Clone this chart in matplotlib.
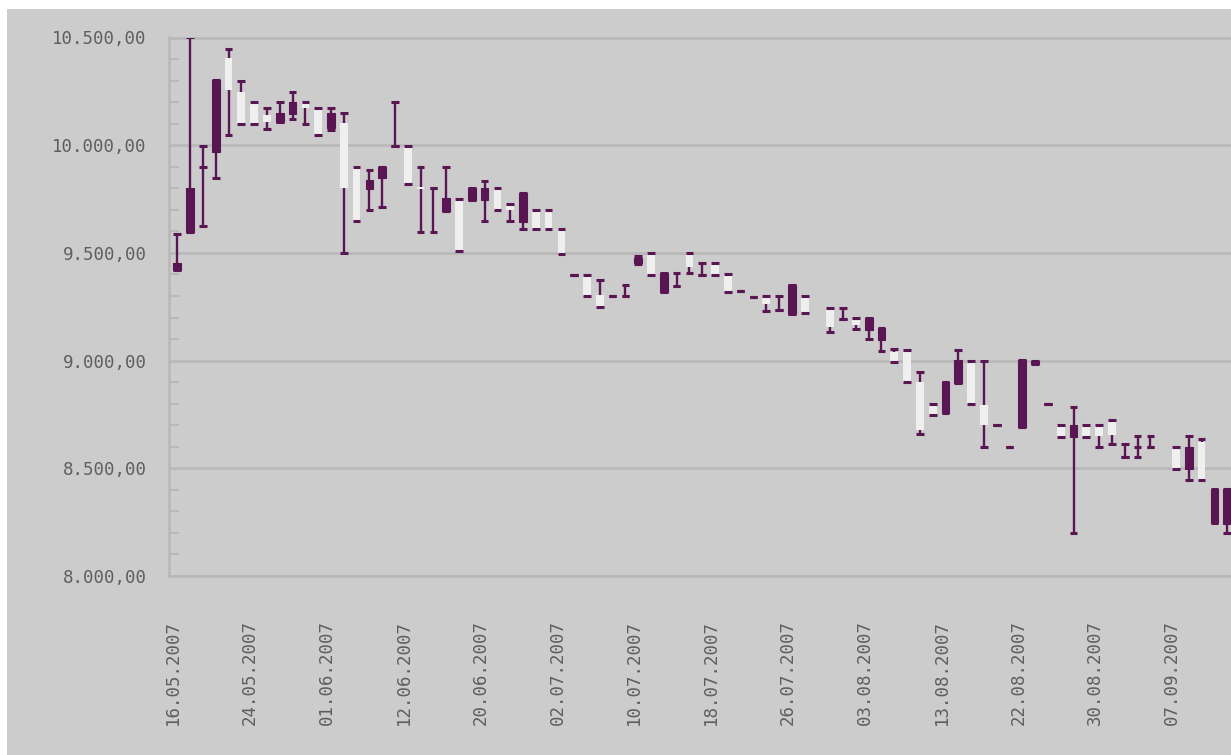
import numpy as np
import matplotlib
matplotlib.use("Agg")
import matplotlib.pyplot as plt
from matplotlib.patches import Rectangle
from matplotlib.ticker import MultipleLocator, FuncFormatter
from matplotlib.transforms import ScaledTranslation

# one slot per trading day, None = no data that day
opens = [9420, 9598, 9900, 9969, 10403, 10248, 10199, 10140, 10109, 10145,
         10196, 10166, 10078, 10101, 9900, 9796, 9846, 9997, 9997, 9805,
         9799, 9695, 9750, 9745, 9745, 9799, 9718, 9644, 9698, 9698,
         9610, 9396, 9396, 9303, 9299, 9299, 9455, 9500, 9319, 9347,
         9489, 9396, 9451, 9401, 9323, 9296, 9290, 9234, 9218, 9299,
         None, 9240, 9195, 9190, 9141, 9094, 9040, 9040, 8900, 8800,
         8756, 8896, 8998, 8792, 8699, 8598, 8691, 8985, 8800, 8699,
         8645, 8699, 8695, 8715, 8552, 8598, 8598, None, 8598, 8498,
         8622, 8247, 8240]
closes = [9452, 9799, 9900, 10302, 10256, 10098, 10098, 10110, 10151, 10202,
          10172, 10047, 10151, 9799, 9649, 9838, 9900, 9997, 9822, 9795,
          9799, 9753, 9509, 9799, 9799, 9698, 9700, 9776, 9610, 9610,
          9497, 9396, 9299, 9250, 9299, 9299, 9475, 9396, 9405, 9347,
          9435, 9396, 9396, 9319, 9323, 9296, 9262, 9234, 9353, 9221,
          None, 9155, 9195, 9165, 9200, 9151, 8994, 8900, 8676, 8749,
          8900, 9001, 8800, 8699, 8699, 8598, 9001, 9000, 8800, 8645,
          8699, 8645, 8650, 8653, 8552, 8598, 8598, None, 8498, 8598,
          8447, 8402, 8402]
highs = [9587, 10500, 9997, 10302, 10447, 10298, 10199, 10171, 10199, 10248,
         10199, 10174, 10171, 10148, 9900, 9884, 9900, 10199, 9997, 9900,
         9799, 9900, 9750, 9799, 9835, 9799, 9725, 9776, 9698, 9698,
         9610, 9396, 9396, 9373, 9299, 9350, 9485, 9500, 9405, 9405,
         9500, 9451, 9451, 9401, 9323, 9296, 9299, 9299, 9353, 9299,
         None, 9246, 9246, 9200, 9200, 9151, 9052, 9048, 8947, 8800,
         8900, 9048, 8998, 8998, 8699, 8598, 9001, 9000, 8800, 8699,
         8784, 8699, 8699, 8726, 8611, 8648, 8648, None, 8598, 8648,
         8637, 8402, 8402]
lows = [9420, 9598, 9624, 9850, 10047, 10098, 10098, 10073, 10109, 10121,
        10098, 10047, 10070, 9500, 9649, 9698, 9711, 9997, 9822, 9598,
        9598, 9695, 9509, 9745, 9649, 9698, 9649, 9610, 9610, 9610,
        9497, 9396, 9299, 9250, 9299, 9299, 9447, 9396, 9319, 9347,
        9409, 9396, 9396, 9319, 9323, 9296, 9230, 9234, 9218, 9221,
        None, 9133, 9195, 9149, 9098, 9045, 8994, 8900, 8661, 8749,
        8756, 8896, 8800, 8598, 8699, 8598, 8691, 8985, 8800, 8645,
        8201, 8645, 8598, 8611, 8552, 8552, 8598, None, 8498, 8447,
        8447, 8247, 8201]

date_labels = ["16.05.2007", "24.05.2007", "01.06.2007", "12.06.2007",
               "20.06.2007", "02.07.2007", "10.07.2007", "18.07.2007",
               "26.07.2007", "03.08.2007", "13.08.2007", "22.08.2007",
               "30.08.2007", "07.09.2007"]
label_every = 6

BG = "#cccccc"
LINE = "#b8b8b8"
DARK = "#5a1652"
LIGHT = "#efefef"
TXT = "#5e5e5e"

W, H = 1231, 755
fig = plt.figure(figsize=(W / 100, H / 100), dpi=100, facecolor="white")
fig.patches.append(Rectangle((7 / W, 0), 1, 1 - 9 / H, transform=fig.transFigure,
                             facecolor=BG, edgecolor="none", zorder=-10))
ax = fig.add_axes([169 / W, 1 - 576 / H, 1 - 169 / W, (576 - 37.5) / H])
ax.set_facecolor(BG)

x, o, c, h, l = [], [], [], [], []
for i in range(len(opens)):
    if opens[i] is None:
        continue
    x.append(i); o.append(opens[i]); c.append(closes[i])
    h.append(highs[i]); l.append(lows[i])
x, o, c, h, l = map(np.array, (x, o, c, h, l))

bw = 0.6
ax.vlines(x, l, h, color=DARK, lw=1.7, zorder=3)

up = c > o
down = c < o
flat = c == o
ax.bar(x[up], (c - o)[up], bottom=o[up], width=bw, color=DARK,
       edgecolor=DARK, lw=0.8, zorder=4)
ax.bar(x[down], (o - c)[down], bottom=c[down], width=bw, color=LIGHT,
       edgecolor="none", zorder=4)
ax.hlines(o[flat], x[flat] - bw / 2, x[flat] + bw / 2, color=DARK, lw=2.2, zorder=5)

# caps at high and low
ax.hlines(h, x - bw / 2, x + bw / 2, color=DARK, lw=2.2, zorder=5)
ax.hlines(l, x - bw / 2, x + bw / 2, color=DARK, lw=2.2, zorder=5)

ax.set_xlim(-0.65, 82.3)
ax.set_ylim(8000, 10500)

ax.yaxis.set_major_locator(MultipleLocator(500))
ax.yaxis.set_minor_locator(MultipleLocator(100))
ax.yaxis.set_major_formatter(FuncFormatter(
    lambda v, p: f"{v:,.2f}".replace(",", "X").replace(".", ",").replace("X", ".")))
ax.grid(axis="y", which="major", color=LINE, lw=1.8, zorder=0)
ax.set_axisbelow(True)

font = dict(family="DejaVu Sans Mono", size=12.5, color=TXT)
ax.tick_params(axis="y", which="major", length=0, pad=16, labelsize=font["size"],
               labelcolor=TXT)
ax.tick_params(axis="y", which="minor", direction="in", length=7, width=1.5,
               color=LINE)
for t in ax.get_yticklabels():
    t.set_family(font["family"])

ticks = np.arange(len(date_labels)) * label_every
ax.set_xticks(ticks)
ax.set_xticklabels(date_labels, rotation=90, **font)
ax.tick_params(axis="x", length=0, pad=31.5)
shift = ScaledTranslation(-4 / 100, 0, fig.dpi_scale_trans)
for t in ax.get_xticklabels():
    t.set_transform(t.get_transform() + shift)

for side in ("left", "bottom", "top"):
    ax.spines[side].set_color(LINE)
    ax.spines[side].set_linewidth(1.8)
ax.spines["right"].set_visible(False)

fig.savefig("out.png", dpi=100, facecolor="white")
